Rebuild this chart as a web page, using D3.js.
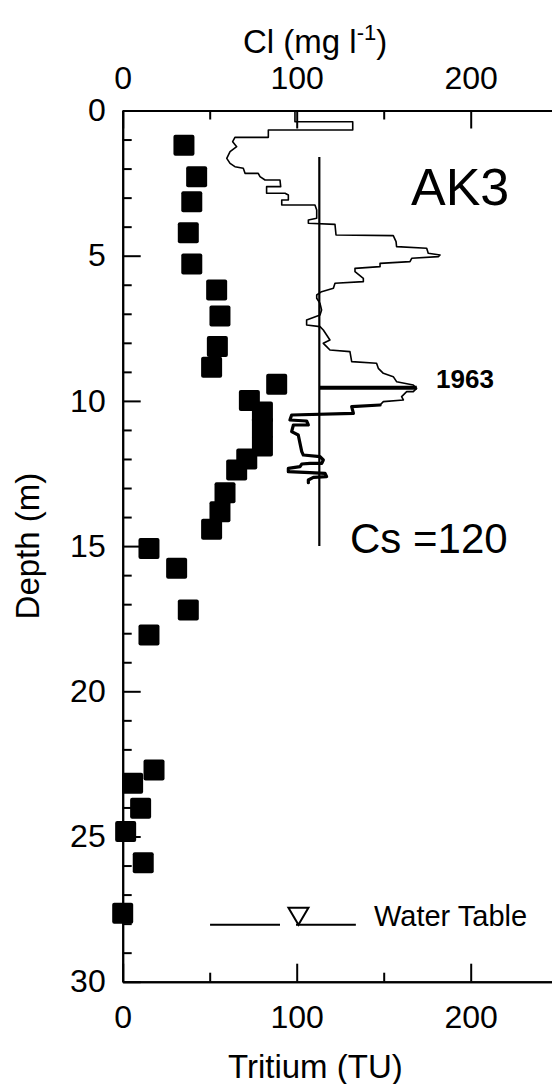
<!DOCTYPE html>
<html>
<head>
<meta charset="utf-8">
<script src="https://cdn.jsdelivr.net/npm/d3@7"></script>
<style>
  html, body { margin: 0; padding: 0; background: #fff; }
  svg { display: block; }
  text { font-family: "Liberation Sans", Arial, Helvetica, sans-serif; fill: #000; }
</style>
</head>
<body>
<div id="chart"></div>
<script>
// ---- Data ----
// Tritium samples (squares): depth (m) and tritium (TU)
const tritiumDepth = [1.20, 2.28, 3.14, 4.21, 5.29, 6.18, 7.08, 8.13, 8.84, 9.43, 9.99, 10.38, 10.93, 11.55, 12.00, 12.38, 13.16, 13.82, 14.42, 15.08, 15.76, 17.20, 18.06, 22.71, 23.17, 24.03, 24.83, 25.90, 27.64];
const tritiumTU    = [35.2, 42.5, 39.7, 37.7, 39.7, 54.0, 55.9, 54.4, 51.1, 88.5, 72.8, 80.3, 80.3, 80.3, 71.3, 65.5, 58.8, 55.9, 51.1, 15.1, 31.0, 37.7, 15.1, 18.0, 5.7, 10.3, 1.7, 11.8, 0.0];

// Chloride profile (stepped trace): Cl (mg/l) and depth (m)
const clValue = [99.0, 99.0, 132.2, 132.2, 83.7, 83.7, 64.5, 63.2, 65.5, 61.7, 59.8, 61.7, 64.5, 69.3, 70.3, 77.9, 78.9, 81.8, 90.4, 90.8, 82.7, 82.7, 93.3, 95.2, 95.2, 91.4, 91.4, 110.5, 111.5, 111.5, 106.7, 106.7, 122.0, 122.6, 155.5, 157.1, 157.4, 174.7, 175.6, 182.4, 181.4, 166.1, 165.1, 147.9, 147.9, 133.5, 133.5, 138.3, 138.3, 122.0, 121.1, 114.3, 111.5, 111.5, 113.4, 114.3, 113.4, 105.7, 105.7, 113.4, 115.3, 117.2, 119.1, 115.3, 117.2, 119.1, 130.6, 131.6, 145.9, 146.9, 149.8, 155.5, 157.4, 167.0, 168.9, 167.0, 163.2, 160.3, 161.3, 149.8, 147.9, 131.6, 132.6, 97.1, 96.1, 105.7, 106.7, 98.1, 97.1, 100.9, 101.9, 102.9, 103.8, 113.4, 115.3, 114.4, 107.6, 102.9, 101.9, 95.2, 95.2, 107.6, 116.3, 117.2, 109.6, 106.7, 106.7];
const clDepth = [0.0, 0.385, 0.385, 0.672, 0.672, 0.924, 0.924, 1.073, 1.245, 1.417, 1.647, 1.819, 1.934, 1.991, 2.164, 2.164, 2.278, 2.393, 2.393, 2.623, 2.623, 2.852, 2.852, 2.910, 3.082, 3.082, 3.254, 3.254, 3.426, 3.713, 3.771, 3.885, 3.920, 4.287, 4.310, 4.517, 4.689, 4.746, 4.918, 4.976, 5.033, 5.090, 5.205, 5.263, 5.377, 5.435, 5.549, 5.779, 5.894, 5.951, 6.123, 6.238, 6.353, 6.467, 6.640, 6.869, 7.041, 7.214, 7.386, 7.443, 7.558, 7.730, 7.902, 8.017, 8.132, 8.247, 8.304, 8.649, 8.706, 8.878, 9.050, 9.165, 9.338, 9.452, 9.567, 9.682, 9.682, 9.854, 9.968, 10.026, 10.141, 10.199, 10.428, 10.486, 10.658, 10.692, 10.830, 10.830, 11.060, 11.175, 11.462, 11.748, 11.863, 11.921, 12.035, 12.150, 12.150, 12.173, 12.265, 12.322, 12.437, 12.471, 12.494, 12.609, 12.632, 12.724, 12.816];

// Steady-state chloride (Cs) reference line
const csValue = [113, 113];
const csDepth = [1.6, 15.0];

// 1963 bomb peak marker
const peakCl = [113, 169];
const peakDepth = [9.55, 9.55];

// Water table
const waterTableDepth = 28.04;
const waterLeftTU = [50.2, 90.4];
const waterRightTU = [99.6, 134];
const waterMarkTU = 101;

// Axis ticks
const depthMajor = [0, 5, 10, 15, 20, 25, 30];
const depthMinor = d3.range(0, 31, 1).filter(d => d % 5 !== 0);
const xMajor = [0, 100, 200, 300];
const xLabels = [0, 100, 200];
const xMinor = [50, 150, 250];

// Labels
const topTitle = "Cl (mg l";
const bottomTitle = "Tritium (TU)";
const leftTitle = "Depth (m)";

// ---- Layout ----
const W = 552, H = 1084;
const x = d3.scaleLinear().domain([0, 300]).range([122.7, 644.7]);
const y = d3.scaleLinear().domain([0, 30]).range([110.5, 981.7]);

const svg = d3.select("#chart").append("svg")
  .attr("width", W).attr("height", H).attr("viewBox", `0 0 ${W} ${H}`);

const FS = 32;

function styleAxis(g, showText) {
  g.selectAll("path.domain").attr("stroke", "#000").attr("stroke-width", 2);
  g.selectAll(".tick line").attr("stroke", "#000").attr("stroke-width", 2);
  g.selectAll(".tick text").attr("font-size", FS).attr("font-family", "Liberation Sans, Arial, sans-serif").attr("fill", "#000");
  if (!showText) g.selectAll(".tick text").remove();
  else g.selectAll(".tick text").filter(d => d === 300).remove();
}

// Left axis
svg.append("g").attr("transform", `translate(${x(0)},0)`)
  .call(d3.axisLeft(y).tickValues(depthMinor).tickSizeInner(-9).tickSizeOuter(0).tickFormat(""))
  .call(g => styleAxis(g, false));
svg.append("g").attr("transform", `translate(${x(0)},0)`)
  .call(d3.axisLeft(y).tickValues(depthMajor).tickSizeInner(-18).tickSizeOuter(0).tickPadding(17).tickFormat(d3.format("d")))
  .call(g => styleAxis(g, true));

// Top axis (Cl)
svg.append("g").attr("transform", `translate(0,${y(0)})`)
  .call(d3.axisTop(x).tickValues(xMinor).tickSizeInner(-9).tickSizeOuter(0).tickFormat(""))
  .call(g => styleAxis(g, false));
svg.append("g").attr("transform", `translate(0,${y(0)})`)
  .call(d3.axisTop(x).tickValues(xMajor).tickSizeInner(-18).tickSizeOuter(0).tickPadding(22)
    .tickFormat(d => xLabels.includes(d) ? d3.format("d")(d) : ""))
  .call(g => styleAxis(g, true));

// Bottom axis (Tritium)
svg.append("g").attr("transform", `translate(0,${y(30)})`)
  .call(d3.axisBottom(x).tickValues(xMinor).tickSizeInner(-9).tickSizeOuter(0).tickFormat(""))
  .call(g => styleAxis(g, false));
svg.append("g").attr("transform", `translate(0,${y(30)})`)
  .call(d3.axisBottom(x).tickValues(xMajor).tickSizeInner(-18).tickSizeOuter(0).tickPadding(24)
    .tickFormat(d => xLabels.includes(d) ? d3.format("d")(d) : ""))
  .call(g => styleAxis(g, true));

// Axis titles
const tt = svg.append("text").attr("x", 243).attr("y", 53).attr("font-size", 33);
tt.append("tspan").text(topTitle);
tt.append("tspan").attr("font-size", 22).attr("dy", -13).text("-1");
tt.append("tspan").attr("dy", 13).text(")");

svg.append("text").attr("x", 228).attr("y", 1078).attr("font-size", 33).text(bottomTitle);

svg.append("text")
  .attr("transform", `translate(39,${(y(0) + y(30)) / 2}) rotate(-90)`)
  .attr("text-anchor", "middle").attr("font-size", 33).text(leftTitle);

// Cs line
const line = d3.line().x(d => x(d[0])).y(d => y(d[1]));
svg.append("path")
  .datum(csValue.map((v, i) => [v, csDepth[i]]))
  .attr("d", line).attr("fill", "none").attr("stroke", "#000").attr("stroke-width", 2.2);

// Chloride profile
const clPts = clValue.map((v, i) => [v, clDepth[i]]);
svg.append("path")
  .datum(clPts)
  .attr("d", line).attr("fill", "none").attr("stroke", "#000")
  .attr("stroke-width", 1.6).attr("stroke-linejoin", "round");
// heavier lower section of the trace
svg.append("path")
  .datum(clPts.filter(p => p[1] >= 10.1))
  .attr("d", line).attr("fill", "none").attr("stroke", "#000")
  .attr("stroke-width", 3.2).attr("stroke-linejoin", "round").attr("stroke-linecap", "round");

// 1963 peak marker
svg.append("path")
  .datum(peakCl.map((v, i) => [v, peakDepth[i]]))
  .attr("d", line).attr("fill", "none").attr("stroke", "#000").attr("stroke-width", 4);

// Tritium squares
const S = 21;
svg.append("g").selectAll("rect")
  .data(tritiumTU.map((v, i) => [v, tritiumDepth[i]]))
  .join("rect")
  .attr("x", d => x(d[0]) - S / 2)
  .attr("y", d => y(d[1]) - S / 2)
  .attr("width", S).attr("height", S).attr("rx", 2)
  .attr("fill", "#000");

// Water table
const wy = y(waterTableDepth);
[waterLeftTU, waterRightTU].forEach(seg => {
  svg.append("line")
    .attr("x1", x(seg[0])).attr("x2", x(seg[1]))
    .attr("y1", wy).attr("y2", wy)
    .attr("stroke", "#000").attr("stroke-width", 2);
});
const tx = x(waterMarkTU);
svg.append("path")
  .attr("d", `M${tx - 10},${wy - 17} L${tx + 10},${wy - 17} L${tx},${wy} Z`)
  .attr("fill", "#fff").attr("stroke", "#000").attr("stroke-width", 2).attr("stroke-linejoin", "miter");
svg.append("text").attr("x", 374).attr("y", wy + 1).attr("font-size", 29).text("Water Table");

// Annotations
svg.append("text").attr("x", 411).attr("y", 205).attr("font-size", 52).text("AK3");
svg.append("text").attr("x", 436).attr("y", 388).attr("font-size", 26).attr("font-weight", "bold").text("1963");
svg.append("text").attr("x", 350).attr("y", 553).attr("font-size", 42).text("Cs =120");
</script>
</body>
</html>
